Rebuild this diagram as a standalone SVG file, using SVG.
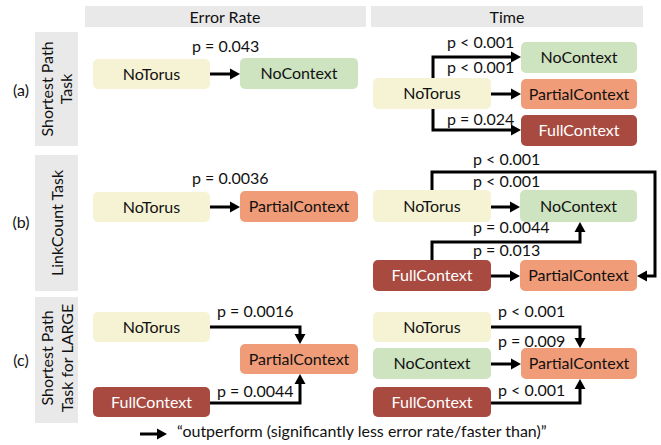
<svg xmlns="http://www.w3.org/2000/svg" width="661" height="445" viewBox="0 0 661 445">
<style>
text{font-family:Lato,"Open Sans","Liberation Sans",sans-serif;fill:#111}
.hdr{fill:#e9e9e9}
.h{font-size:16px;text-anchor:middle}
.n{font-size:16px;text-anchor:middle}
.p{font-size:16px}
.w{fill:#fff}
.nt{fill:#f6f3d5}
.nc{fill:#cee3c0}
.pc{fill:#f19c78}
.fc{fill:#a84a40}
.c{fill:none;stroke:#000;stroke-width:3;marker-end:url(#ah)}
</style>
<defs>
<marker id="ah" markerUnits="userSpaceOnUse" markerWidth="11" markerHeight="12" refX="6" refY="6" orient="auto">
<path d="M0,0.5 L10,6 L0,11.5 z" fill="#000"/>
</marker>
</defs>
<rect width="661" height="445" fill="#fff"/>
<g id="headers">
<rect class="hdr" x="85" y="6" width="281" height="21"/>
<text class="h" x="225" y="23">Error Rate</text>
<rect class="hdr" x="371" y="6" width="272" height="21"/>
<text class="h" x="507" y="23">Time</text>
</g>
<g id="row-a-label">
<rect class="hdr" x="35" y="32" width="43" height="114"/>
<text class="h" transform="translate(53,89) rotate(-90)">Shortest Path</text>
<text class="h" transform="translate(72,89) rotate(-90)">Task</text>
<text class="h" x="21" y="96">(a)</text>
</g>
<g id="row-b-label">
<rect class="hdr" x="35" y="155" width="43" height="136"/>
<text class="h" transform="translate(63,223) rotate(-90)">LinkCount Task</text>
<text class="h" x="21" y="228">(b)</text>
</g>
<g id="row-c-label">
<rect class="hdr" x="35" y="297" width="43" height="126"/>
<text class="h" transform="translate(53,358) rotate(-90)">Shortest Path</text>
<text class="h" transform="translate(73,358) rotate(-90)">Task for LARGE</text>
<text class="h" x="21" y="366">(c)</text>
</g>
<g id="a-err-notorus"><rect class="nt" x="93" y="59" width="117" height="30" rx="5"/><text class="n" x="151.5" y="80">NoTorus</text></g>
<g id="a-err-nocontext"><rect class="nc" x="240" y="58" width="118" height="31" rx="5"/><text class="n" x="299" y="79">NoContext</text></g>
<g id="a-time-notorus"><rect class="nt" x="373" y="78" width="118" height="31" rx="5"/><text class="n" x="432" y="99">NoTorus</text></g>
<g id="a-time-nocontext"><rect class="nc" x="521" y="42" width="116" height="31" rx="5"/><text class="n" x="579" y="63">NoContext</text></g>
<g id="a-time-partial"><rect class="pc" x="521" y="79" width="116" height="30" rx="5"/><text class="n" x="579" y="100">PartialContext</text></g>
<g id="a-time-full"><rect class="fc" x="521" y="115" width="116" height="31" rx="5"/><text class="n w" x="579" y="136">FullContext</text></g>
<g id="b-err-notorus"><rect class="nt" x="93" y="192" width="117" height="30" rx="5"/><text class="n" x="151.5" y="213">NoTorus</text></g>
<g id="b-err-partial"><rect class="pc" x="240" y="191" width="118" height="31" rx="5"/><text class="n" x="299" y="212">PartialContext</text></g>
<g id="b-time-notorus"><rect class="nt" x="373" y="190" width="118" height="32" rx="5"/><text class="n" x="432" y="212">NoTorus</text></g>
<g id="b-time-nocontext"><rect class="nc" x="520" y="190" width="117" height="32" rx="5"/><text class="n" x="578.5" y="212">NoContext</text></g>
<g id="b-time-full"><rect class="fc" x="373" y="260" width="118" height="31" rx="5"/><text class="n w" x="432" y="281">FullContext</text></g>
<g id="b-time-partial"><rect class="pc" x="520" y="260" width="117" height="31" rx="5"/><text class="n" x="578.5" y="281">PartialContext</text></g>
<g id="c-err-notorus"><rect class="nt" x="93" y="312" width="117" height="30" rx="5"/><text class="n" x="151.5" y="333">NoTorus</text></g>
<g id="c-err-partial"><rect class="pc" x="240" y="344" width="118" height="30" rx="5"/><text class="n" x="299" y="365">PartialContext</text></g>
<g id="c-err-full"><rect class="fc" x="93" y="387" width="117" height="30" rx="5"/><text class="n w" x="151.5" y="408">FullContext</text></g>
<g id="c-time-notorus"><rect class="nt" x="373" y="312" width="118" height="30" rx="5"/><text class="n" x="432" y="333">NoTorus</text></g>
<g id="c-time-nocontext"><rect class="nc" x="373" y="348" width="118" height="31" rx="5"/><text class="n" x="432" y="369">NoContext</text></g>
<g id="c-time-full"><rect class="fc" x="373" y="387" width="118" height="30" rx="5"/><text class="n w" x="432" y="408">FullContext</text></g>
<g id="c-time-partial"><rect class="pc" x="521" y="348" width="116" height="31" rx="5"/><text class="n" x="579" y="369">PartialContext</text></g>
<g id="connectors">
<path class="c" d="M210,74 H236"/>
<path class="c" d="M433,78 V57 H517"/>
<path class="c" d="M491,94 H517"/>
<path class="c" d="M433,109 V130 H517"/>
<path class="c" d="M210,207 H236"/>
<path class="c" d="M432,190 V172 H655 V276 H641"/>
<path class="c" d="M491,207 H516"/>
<path class="c" d="M432,260 V242 H580 V226"/>
<path class="c" d="M491,276 H516"/>
<path class="c" d="M210,327 H300 V340"/>
<path class="c" d="M210,403 H300 V378"/>
<path class="c" d="M491,327 H580 V344"/>
<path class="c" d="M491,364 H517"/>
<path class="c" d="M491,403 H580 V383"/>
<path class="c" d="M140,434 H163"/>
</g>
<g id="labels">
<text class="p" x="192" y="52">p = 0.043</text>
<text class="p" x="447" y="48">p &lt; 0.001</text>
<text class="p" x="447" y="73">p &lt; 0.001</text>
<text class="p" x="447" y="125">p = 0.024</text>
<text class="p" x="192" y="184">p = 0.0036</text>
<text class="p" x="473" y="165">p &lt; 0.001</text>
<text class="p" x="473" y="187">p &lt; 0.001</text>
<text class="p" x="473" y="233">p = 0.0044</text>
<text class="p" x="473" y="256">p = 0.013</text>
<text class="p" x="217" y="317">p = 0.0016</text>
<text class="p" x="217" y="397">p = 0.0044</text>
<text class="p" x="498" y="317">p &lt; 0.001</text>
<text class="p" x="498" y="347">p = 0.009</text>
<text class="p" x="498" y="396">p &lt; 0.001</text>
<text class="p" x="177" y="437">“outperform (significantly less error rate/faster than)”</text>
</g>
</svg>
